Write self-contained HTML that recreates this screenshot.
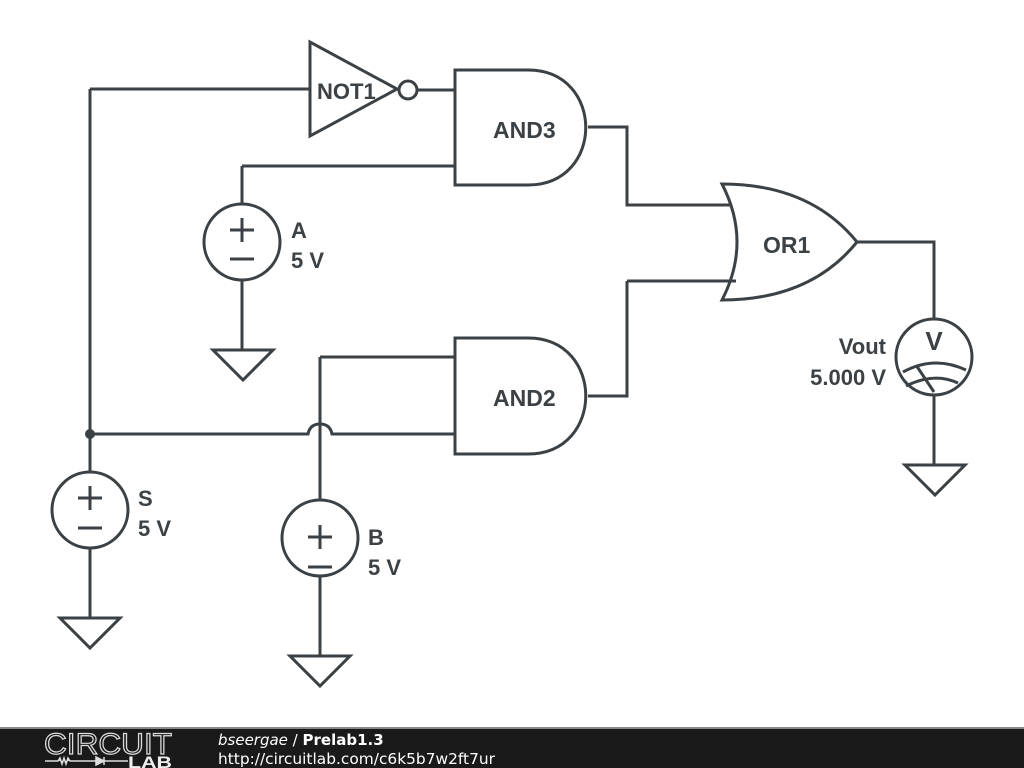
<!DOCTYPE html>
<html><head><meta charset="utf-8"><style>
html,body{margin:0;padding:0;background:#fff;width:1024px;height:768px;overflow:hidden}
svg{display:block}
</style></head><body>
<svg width="1024" height="768" viewBox="0 0 1024 768" xmlns="http://www.w3.org/2000/svg">
<g fill="none" stroke="#3b4145" stroke-width="3" stroke-linejoin="miter">
<polygon points="310,42 310,136 397,89" fill="#fff"/>
<circle cx="408" cy="90" r="9" fill="#fff"/>
<path d="M90,89 H310 M417,90 H455"/>
<path d="M455,70 H528 C605,70 605,185 528,185 H455 Z" fill="#fff"/>
<path d="M588,127 H627 V205 H738 M242,166 H455 M242,166 V204"/>
<circle cx="242" cy="242" r="38"/>
<path d="M230,230 H254 M242,218 V242 M230,259 H254 M242,280 V350"/>
<polygon points="213,350 273,350 243,380"/>
<path d="M722,184 Q810,184 857,242 Q810,300 722,300 Q752,242 722,184 Z" fill="#fff"/>
<path d="M627,281 H736 M857,242 H934 V319"/>
<circle cx="934" cy="357" r="38"/>
<path d="M903,372 Q934,355 966,370 M906,386 Q934,372 958,383 M916,365 L934,392"/>
<path d="M934,395 V465"/>
<polygon points="905,465 965,465 935,495"/>
<path d="M455,338 H528 C605,338 605,454 528,454 H455 Z" fill="#fff"/>
<path d="M588,396 H627 V281"/>
<path d="M320,357 H455 M320,357 V500"/>
<path d="M90,89 V472 M90,434 H308 Q310,424 320,424 Q330,424 332,434 H455"/>
<circle cx="320" cy="538" r="38"/>
<path d="M308,537 H332 M320,525 V549 M308,567 H332 M320,576 V656"/>
<polygon points="290,656 350,656 320,686"/>
<circle cx="90" cy="510" r="38"/>
<path d="M78,498 H102 M90,486 V510 M78,528 H102 M90,548 V618"/>
<polygon points="60,618 120,618 90,648"/>
</g>
<circle cx="90" cy="434" r="5" fill="#3b4145"/>
<g font-family="Liberation Sans, sans-serif" font-weight="bold" font-size="22" fill="#3b4145">
<text x="317" y="99" font-size="22">NOT1</text>
<text x="493" y="138" font-size="23">AND3</text>
<text x="493" y="406" font-size="23">AND2</text>
<text x="763" y="253" font-size="23">OR1</text>
<text x="291" y="238">A</text><text x="291" y="268">5 V</text>
<text x="138" y="506">S</text><text x="138" y="536">5 V</text>
<text x="368" y="545">B</text><text x="368" y="575">5 V</text>
<text x="886" y="354" text-anchor="end">Vout</text>
<text x="886" y="385" text-anchor="end">5.000 V</text>
<text x="934" y="350" text-anchor="middle" font-size="26">V</text>
</g>
<rect x="0" y="728" width="1024" height="40" fill="#1a1a1a"/>
<rect x="0" y="727" width="1024" height="2" fill="#888"/>
<text x="44" y="754" font-family="Liberation Sans, sans-serif" font-size="30" fill="none" stroke="#ddd" stroke-width="1.2" textLength="128" lengthAdjust="spacingAndGlyphs">CIRCUIT</text>
<path d="M45,761 H58 l2,-3 2,6 2,-6 2,6 2,-6 2,3 H96 M96,757 v8 l8,-4 z M104,757 v8 M104,761 H128" stroke="#ddd" stroke-width="1.5" fill="#ddd"/>
<text x="128" y="768" font-family="Liberation Sans, sans-serif" font-size="17" font-weight="bold" fill="#eee" textLength="44" lengthAdjust="spacingAndGlyphs">LAB</text>
<text x="218" y="745" font-family="DejaVu Sans, sans-serif" font-size="15" fill="#fff"><tspan font-style="italic">bseergae</tspan> / <tspan font-weight="bold">Prelab1.3</tspan></text>
<text x="218" y="764" font-family="DejaVu Sans, sans-serif" font-size="15" fill="#fff" textLength="277" lengthAdjust="spacingAndGlyphs">http://circuitlab.com/c6k5b7w2ft7ur</text>
</svg>
</body></html>
